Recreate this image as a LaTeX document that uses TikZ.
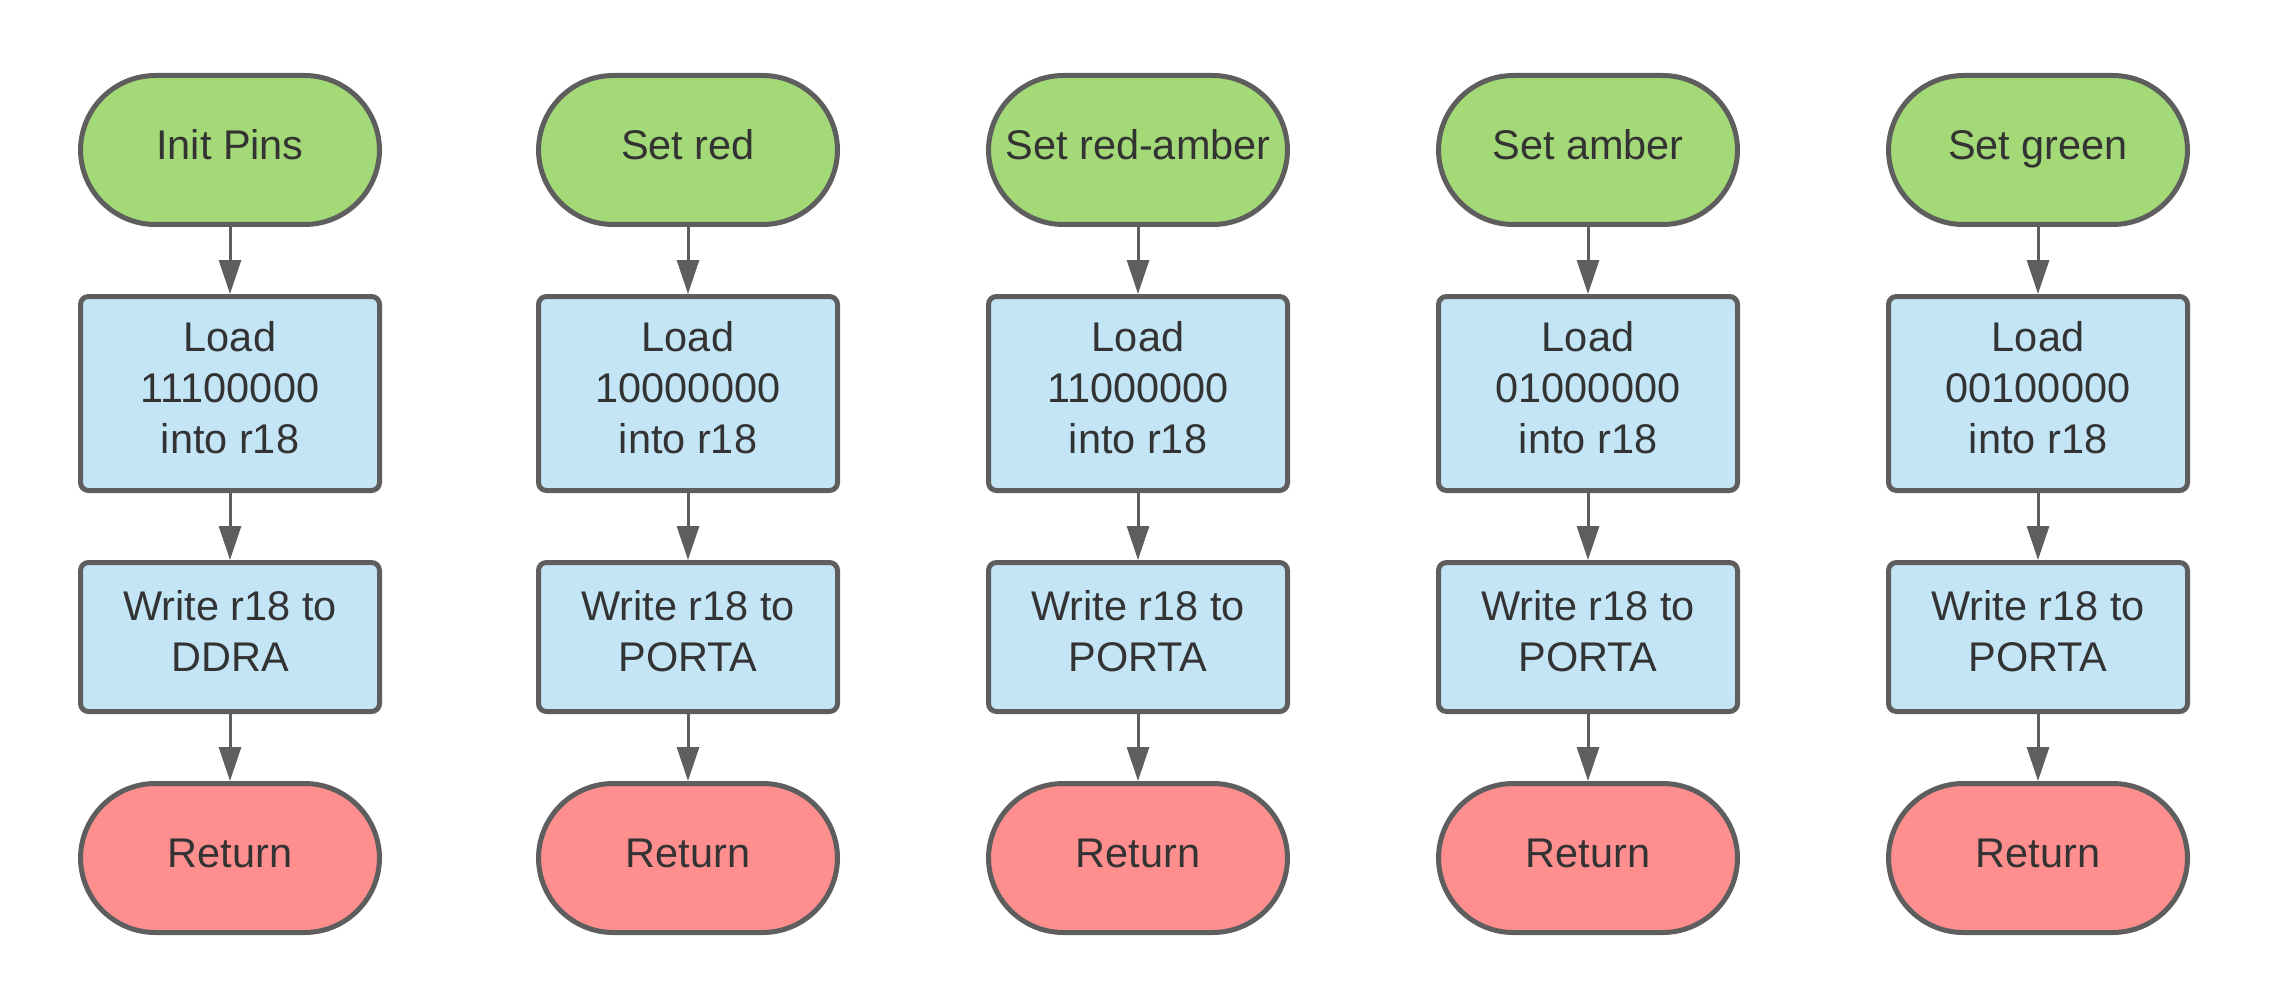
\documentclass[tikz,border=0pt]{standalone}
\usepackage{fontspec}
\setmainfont{Liberation Sans}
\usetikzlibrary{arrows.meta,positioning}

\definecolor{startgreen}{HTML}{A3D977}
\definecolor{procblue}{HTML}{C3E5F6}
\definecolor{endred}{HTML}{FF8F8F}
\definecolor{edgegray}{HTML}{5E5E5E}
\definecolor{textgray}{HTML}{333333}

\tikzset{
  base/.style={draw=edgegray, line width=0.05cm, text=textgray, align=center,
    font=\fontsize{11.8}{14.6}\selectfont, text height=8.5pt, text depth=3.3pt,
    minimum width=2.99cm, inner sep=2pt},
  start/.style={base, fill=startgreen, minimum height=1.49cm, rounded corners=0.75cm},
  finish/.style={base, fill=endred, minimum height=1.49cm, rounded corners=0.75cm},
  load/.style={base, fill=procblue, minimum height=1.94cm, rounded corners=0.08cm,
    text height=37.7pt},
  write/.style={base, fill=procblue, minimum height=1.49cm, rounded corners=0.08cm,
    text height=23.1pt},
}

\begin{document}
\begin{tikzpicture}[node distance=0.67cm, >={Triangle[length=0.34cm,width=0.22cm]},
    every edge/.style={draw=edgegray, line width=0.03cm}]
        \useasboundingbox (0,0) rectangle (22.89,-9.96);
        \node[start] (s_1) at (2.30,-1.50) {Init Pins};
        \node[load] (l_1) [below=of s_1] {Load\\11100000\\into r18};
        \node[write] (w_1) [below=of l_1] {Write r18 to\\DDRA};
        \node[finish] (r_1) [below=of w_1] {Return};
        \node[start] (s_2) at (6.88,-1.50) {Set red};
        \node[load] (l_2) [below=of s_2] {Load\\10000000\\into r18};
        \node[write] (w_2) [below=of l_2] {Write r18 to\\PORTA};
        \node[finish] (r_2) [below=of w_2] {Return};
        \node[start] (s_3) at (11.38,-1.50) {Set red-amber};
        \node[load] (l_3) [below=of s_3] {Load\\11000000\\into r18};
        \node[write] (w_3) [below=of l_3] {Write r18 to\\PORTA};
        \node[finish] (r_3) [below=of w_3] {Return};
        \node[start] (s_4) at (15.88,-1.50) {Set amber};
        \node[load] (l_4) [below=of s_4] {Load\\01000000\\into r18};
        \node[write] (w_4) [below=of l_4] {Write r18 to\\PORTA};
        \node[finish] (r_4) [below=of w_4] {Return};
        \node[start] (s_5) at (20.38,-1.50) {Set green};
        \node[load] (l_5) [below=of s_5] {Load\\00100000\\into r18};
        \node[write] (w_5) [below=of l_5] {Write r18 to\\PORTA};
        \node[finish] (r_5) [below=of w_5] {Return};
        \path[->] (s_1) edge (l_1);
        \path[->] (l_1) edge (w_1);
        \path[->] (w_1) edge (r_1);
        \path[->] (s_2) edge (l_2);
        \path[->] (l_2) edge (w_2);
        \path[->] (w_2) edge (r_2);
        \path[->] (s_3) edge (l_3);
        \path[->] (l_3) edge (w_3);
        \path[->] (w_3) edge (r_3);
        \path[->] (s_4) edge (l_4);
        \path[->] (l_4) edge (w_4);
        \path[->] (w_4) edge (r_4);
        \path[->] (s_5) edge (l_5);
        \path[->] (l_5) edge (w_5);
        \path[->] (w_5) edge (r_5);
      \end{tikzpicture}
\end{document}
